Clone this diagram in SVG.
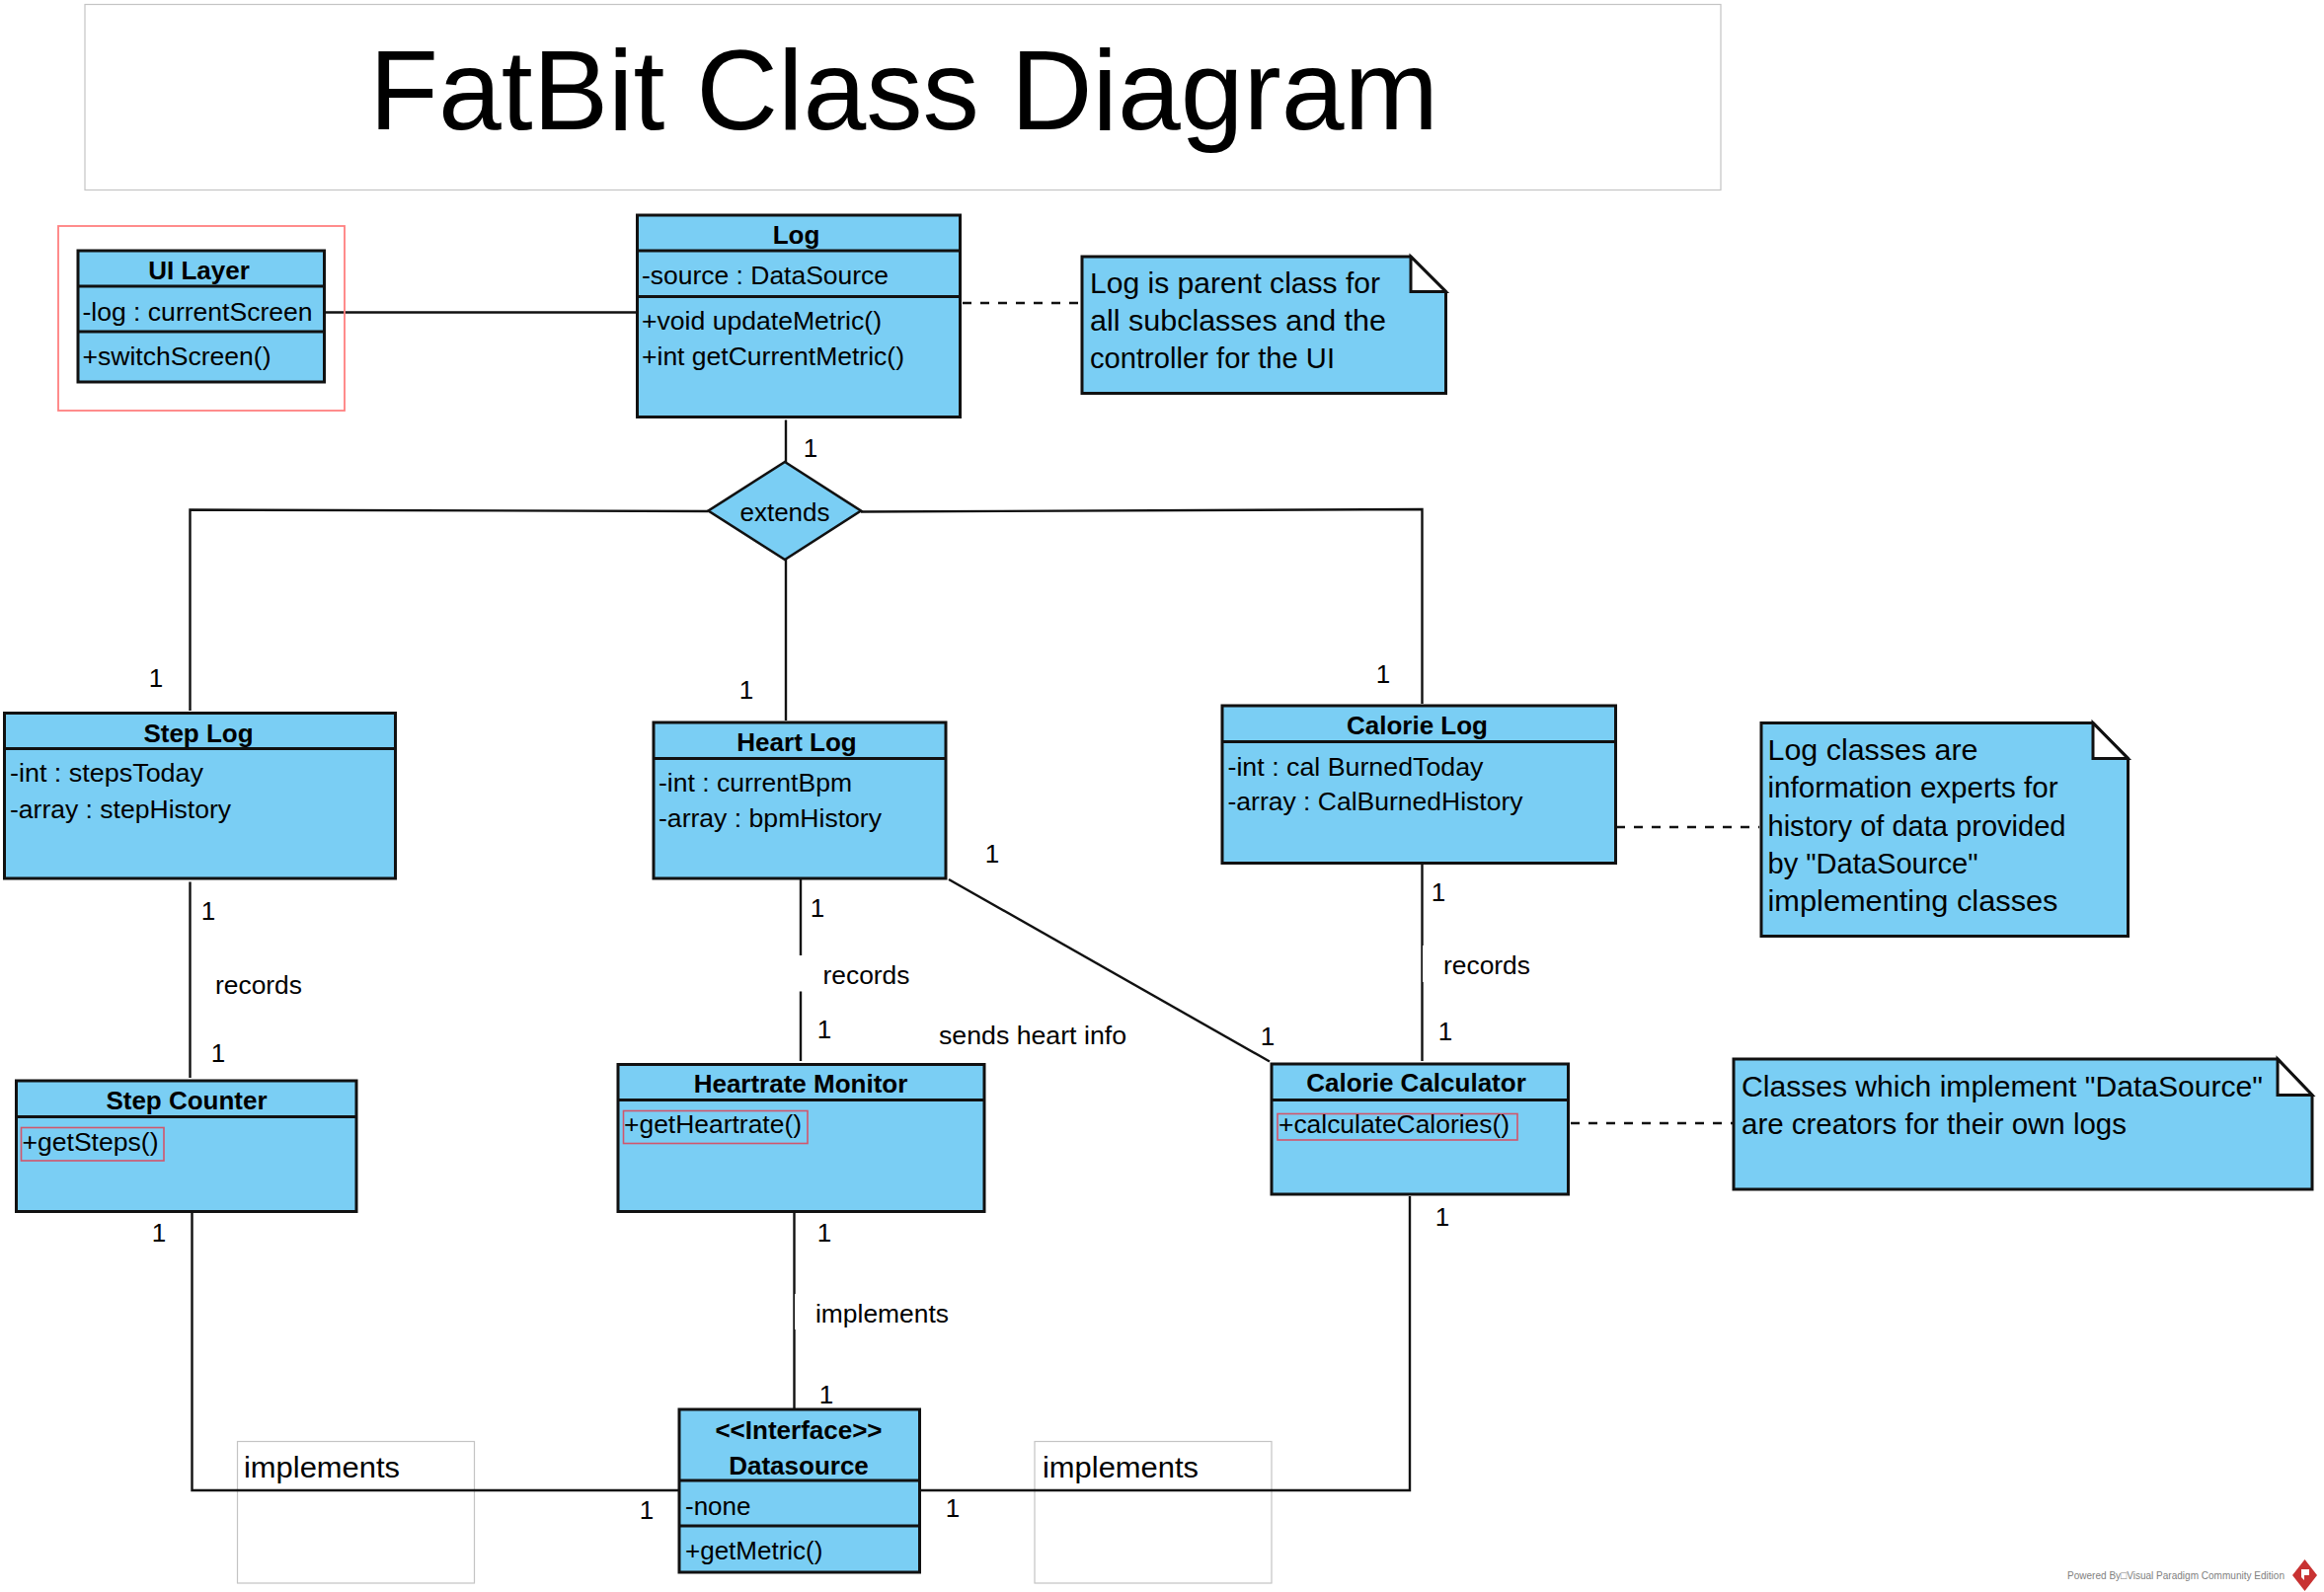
<svg xmlns="http://www.w3.org/2000/svg" width="2354" height="1613" viewBox="0 0 2354 1613">
<defs>
<style>
text{font-family:"Liberation Sans",Arial,sans-serif;fill:#000;font-size:26px}
.box{fill:#7ACEF4;stroke:#111;stroke-width:3}
.div{fill:none;stroke:#111;stroke-width:3}
.b{font-weight:700;text-anchor:middle}
.n{font-size:30px}
.m{text-anchor:middle}
.fold{fill:#fff;stroke:#111;stroke-width:3;stroke-linejoin:miter}
.line{fill:none;stroke:#111;stroke-width:2.4}
.dash{fill:none;stroke:#111;stroke-width:2.6;stroke-dasharray:9 9}
.red{fill:none;stroke:#D2566B;stroke-width:1.6}
.outer{fill:none;stroke:#FF8080;stroke-width:1.8}
.free{fill:#fff;stroke:#C4C4C4;stroke-width:1.2}
.cover{fill:#fff}
</style>
</defs>
<rect width="2354" height="1613" fill="#fff"/>

<g id="title">
<rect x="86" y="4.500" width="1657" height="188" class="free"/>
<text x="374" y="131" textLength="1083" lengthAdjust="spacingAndGlyphs" style="font-size:115px">FatBit Class Diagram</text>
</g>

<g id="free-implements-left"><rect x="240.500" y="1460.500" width="240" height="143.500" class="free"/><text x="247" y="1497" class="n" textLength="158" lengthAdjust="spacingAndGlyphs">implements</text></g>
<g id="free-implements-right"><rect x="1048" y="1460.500" width="240" height="143.500" class="free"/><text x="1056" y="1497" class="n" textLength="158" lengthAdjust="spacingAndGlyphs">implements</text></g>

<g id="connectors">
<path class="line" d="M328 316.500H645"/>
<path class="dash" d="M975 307H1096"/>
<path class="dash" d="M1637 838H1782"/>
<path class="dash" d="M1591 1138H1756"/>
<path class="line" d="M796 425.500V468"/>
<path class="line" d="M717.500 518L192.500 516.500V720"/>
<path class="line" d="M796 567V730"/>
<path class="line" d="M872 518.500L1440.500 516V713"/>
<path class="line" d="M192.500 893.500V1092"/>
<path class="line" d="M811 890V968M811 1004.500V1075"/>
<path class="line" d="M1440.500 875V1075"/>
<rect class="cover" x="1441" y="958" width="14" height="37"/>
<path class="line" d="M961 891L1286 1075.500"/>
<path class="line" d="M804.500 1229V1428"/>
<rect class="cover" x="805" y="1311" width="14" height="36"/>
<path class="line" d="M194.500 1229V1510H688"/>
<path class="line" d="M933 1510H1428V1212"/>
</g>

<g id="connector-labels">
<text x="821" y="463" class="m">1</text>
<text x="158" y="696" class="m">1</text>
<text x="756" y="708" class="m">1</text>
<text x="1401" y="692" class="m">1</text>
<text x="211" y="932" class="m">1</text>
<text x="218" y="1007" textLength="88" lengthAdjust="spacingAndGlyphs">records</text>
<text x="221" y="1076" class="m">1</text>
<text x="828" y="929" class="m">1</text>
<text x="833.500" y="997" textLength="88" lengthAdjust="spacingAndGlyphs">records</text>
<text x="835" y="1052" class="m">1</text>
<text x="1457" y="913" class="m">1</text>
<text x="1462" y="987" textLength="88" lengthAdjust="spacingAndGlyphs">records</text>
<text x="1464" y="1054" class="m">1</text>
<text x="1005" y="874" class="m">1</text>
<text x="1284" y="1059" class="m">1</text>
<text x="951" y="1058" textLength="190" lengthAdjust="spacingAndGlyphs">sends heart info</text>
<text x="161" y="1258" class="m">1</text>
<text x="835" y="1258" class="m">1</text>
<text x="1461" y="1242" class="m">1</text>
<text x="826" y="1340" textLength="135" lengthAdjust="spacingAndGlyphs">implements</text>
<text x="837" y="1422" class="m">1</text>
<text x="655" y="1539" class="m">1</text>
<text x="965" y="1537" class="m">1</text>
</g>

<g id="ui-layer-group"><rect x="59" y="229" width="290" height="187" class="outer"/></g>

<g id="ui-layer">
<rect x="79" y="254" width="249.500" height="133" class="box"/>
<path class="div" d="M79 290H328.500M79 336H328.500"/>
<text x="201.500" y="282.500" class="b">UI Layer</text>
<text x="83.500" y="324.500" textLength="233" lengthAdjust="spacingAndGlyphs">-log : currentScreen</text>
<text x="83.500" y="370" textLength="191" lengthAdjust="spacingAndGlyphs">+switchScreen()</text>
</g>

<g id="log">
<rect x="645.500" y="218" width="327" height="204.500" class="box"/>
<path class="div" d="M645.500 254H972.500M645.500 300.500H972.500"/>
<text x="806.500" y="247" class="b">Log</text>
<text x="650" y="288" textLength="250" lengthAdjust="spacingAndGlyphs">-source : DataSource</text>
<text x="650" y="334" textLength="243" lengthAdjust="spacingAndGlyphs">+void updateMetric()</text>
<text x="650" y="369.500" textLength="266" lengthAdjust="spacingAndGlyphs">+int getCurrentMetric()</text>
</g>

<g id="note-log">
<path class="box" d="M1096 260H1429L1464.500 295.500V398.500H1096Z"/>
<path class="fold" d="M1429 260V295.500H1464.500Z"/>
<text x="1104" y="296.500" class="n" textLength="294" lengthAdjust="spacingAndGlyphs">Log is parent class for</text>
<text x="1104" y="335" class="n" textLength="300" lengthAdjust="spacingAndGlyphs">all subclasses and the</text>
<text x="1104" y="373" class="n" textLength="248" lengthAdjust="spacingAndGlyphs">controller for the UI</text>
</g>

<g id="extends">
<path class="box" style="stroke-width:2.6" d="M795 468L872 517.500L795 567L717.500 517.500Z"/>
<text x="795" y="528" class="m">extends</text>
</g>

<g id="step-log">
<rect x="4.500" y="722.500" width="396" height="167.500" class="box"/>
<path class="div" d="M4.500 758.500H400.500"/>
<text x="201" y="752" class="b">Step Log</text>
<text x="10" y="792" textLength="196" lengthAdjust="spacingAndGlyphs">-int : stepsToday</text>
<text x="10" y="829" textLength="224" lengthAdjust="spacingAndGlyphs">-array : stepHistory</text>
</g>

<g id="heart-log">
<rect x="662" y="732" width="296" height="158" class="box"/>
<path class="div" d="M662 768.500H958"/>
<text x="807" y="761" class="b">Heart Log</text>
<text x="667" y="802" textLength="196" lengthAdjust="spacingAndGlyphs">-int : currentBpm</text>
<text x="667" y="838" textLength="226" lengthAdjust="spacingAndGlyphs">-array : bpmHistory</text>
</g>

<g id="calorie-log">
<rect x="1238" y="715" width="398.500" height="159.500" class="box"/>
<path class="div" d="M1238 751.500H1636.500"/>
<text x="1435.500" y="744" class="b">Calorie Log</text>
<text x="1243.500" y="785.500" textLength="259" lengthAdjust="spacingAndGlyphs">-int : cal BurnedToday</text>
<text x="1243.500" y="820.500" textLength="299" lengthAdjust="spacingAndGlyphs">-array : CalBurnedHistory</text>
</g>

<g id="note-log-classes">
<path class="box" d="M1784 732.500H2120L2155.500 768.500V948.500H1784Z"/>
<path class="fold" d="M2120 732.500V768.500H2155.500Z"/>
<text x="1790.500" y="770" class="n" textLength="213" lengthAdjust="spacingAndGlyphs">Log classes are</text>
<text x="1790.500" y="808" class="n" textLength="294" lengthAdjust="spacingAndGlyphs">information experts for</text>
<text x="1790.500" y="847" class="n" textLength="302" lengthAdjust="spacingAndGlyphs">history of data provided</text>
<text x="1790.500" y="885" class="n" textLength="213" lengthAdjust="spacingAndGlyphs">by "DataSource"</text>
<text x="1790.500" y="923" class="n" textLength="294" lengthAdjust="spacingAndGlyphs">implementing classes</text>
</g>

<g id="step-counter">
<rect x="16.500" y="1095" width="344.500" height="132.500" class="box"/>
<path class="div" d="M16.500 1131.500H361"/>
<text x="189" y="1123.500" class="b">Step Counter</text>
<rect x="21.500" y="1142.500" width="144.500" height="33.500" class="red"/>
<text x="22.500" y="1166" textLength="138" lengthAdjust="spacingAndGlyphs">+getSteps()</text>
</g>

<g id="heartrate-monitor">
<rect x="626" y="1078.500" width="371" height="149" class="box"/>
<path class="div" d="M626 1114.500H997"/>
<text x="811" y="1106.500" class="b">Heartrate Monitor</text>
<rect x="631.500" y="1125.500" width="186.500" height="33" class="red"/>
<text x="632" y="1148" textLength="180" lengthAdjust="spacingAndGlyphs">+getHeartrate()</text>
</g>

<g id="calorie-calculator">
<rect x="1288" y="1078" width="300.500" height="132" class="box"/>
<path class="div" d="M1288 1114.500H1588.500"/>
<text x="1434.500" y="1106" class="b">Calorie Calculator</text>
<rect x="1294" y="1128.500" width="243" height="26.500" class="red"/>
<text x="1295" y="1148" textLength="234" lengthAdjust="spacingAndGlyphs">+calculateCalories()</text>
</g>

<g id="note-datasource">
<path class="box" d="M1756 1073H2307L2342 1109.500V1205H1756Z"/>
<path class="fold" d="M2307 1073V1109.500H2342Z"/>
<text x="1764" y="1110.500" class="n" textLength="528" lengthAdjust="spacingAndGlyphs">Classes which implement "DataSource"</text>
<text x="1764" y="1148.500" class="n" textLength="390" lengthAdjust="spacingAndGlyphs">are creators for their own logs</text>
</g>

<g id="datasource">
<rect x="688" y="1428" width="243.500" height="165" class="box"/>
<path class="div" d="M688 1500H931.500M688 1546H931.500"/>
<text x="809" y="1458" class="b">&lt;&lt;Interface&gt;&gt;</text>
<text x="809" y="1494" class="b">Datasource</text>
<text x="694" y="1535">-none</text>
<text x="694" y="1580">+getMetric()</text>
</g>

<g id="watermark">
<text x="2094" y="1600" textLength="220" lengthAdjust="spacingAndGlyphs" style="font-size:10.500px;fill:#808080">Powered By□Visual Paradigm Community Edition</text>
<path fill="#C83232" d="M2334.500 1580L2347 1596L2334.500 1612L2322 1596Z"/>
<path fill="#fff" d="M2331 1590H2339V1596H2334V1601L2331 1598Z"/>
</g>
</svg>
